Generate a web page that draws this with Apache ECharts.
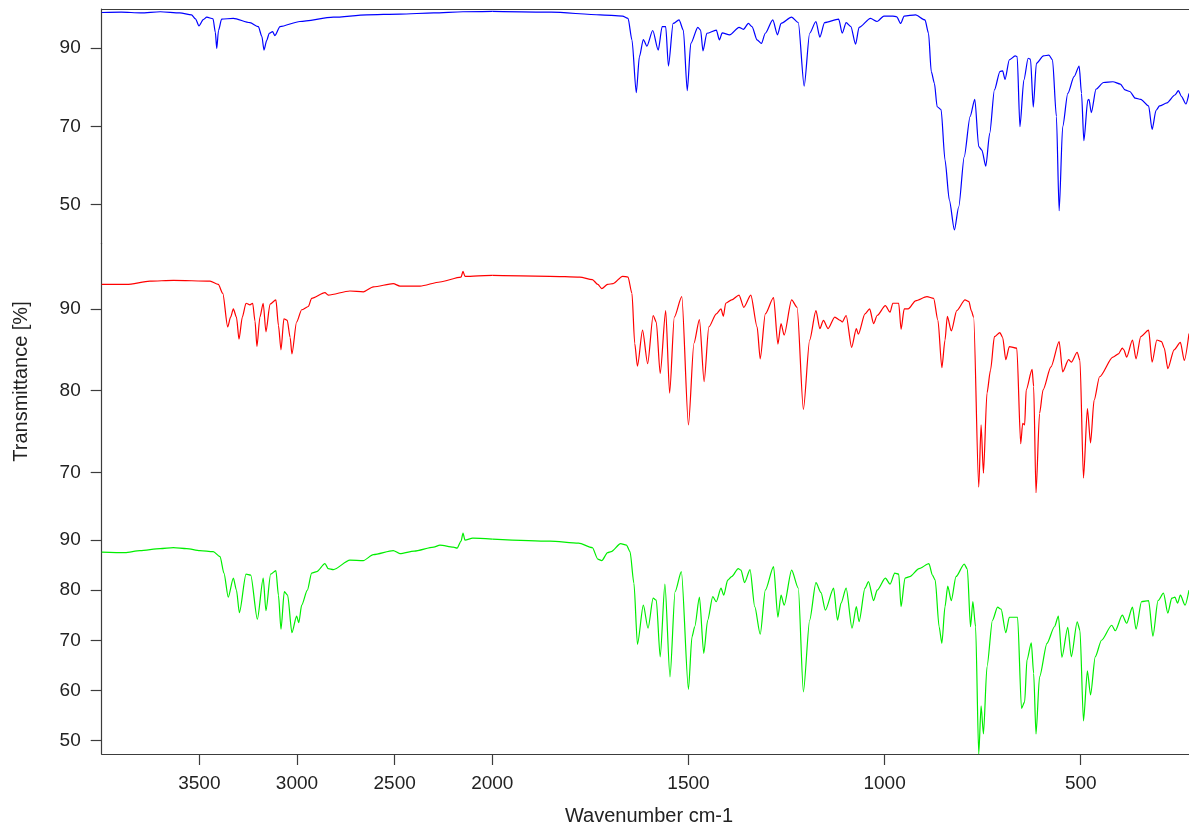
<!DOCTYPE html>
<html lang="en">
<head>
<meta charset="UTF-8">
<title>IR spectra</title>
<script src="https://cdn.jsdelivr.net/npm/echarts@6/dist/echarts.min.js"></script>
<style>
  html, body { margin: 0; padding: 0; background: #fff; }
  #main { width: 1189px; height: 825px; }
</style>
</head>
<body>
<div id="main"></div>
<script>
// spectra: [wavenumber cm-1, transmittance %]
var blueSpectrum = [
  [4000, 99.1], [3900, 99.2], [3800, 99.0], [3700, 99.3], [3600, 99.0], [3540, 98.5], [3520, 97.5],
  [3502, 95.7], [3480, 97.3], [3462, 97.9], [3430, 97.5], [3418, 94.0], [3411, 89.9], [3402, 94.5],
  [3386, 97.4], [3326, 97.6], [3241, 96.5], [3198, 95.5], [3180, 93.0], [3169, 89.5], [3155, 92.0],
  [3142, 93.8], [3125, 94.2], [3113, 93.2], [3087, 95.5], [2985, 96.8], [2814, 97.9], [2643, 98.5],
  [2473, 98.7], [2300, 99.0], [2150, 99.3], [2000, 99.4], [1850, 99.2], [1725, 98.5], [1668, 98.2],
  [1654, 97.6], [1644, 92.1], [1633, 78.6], [1625, 87.8], [1615, 92.2], [1606, 90.5], [1591, 94.5],
  [1577, 89.5], [1567, 95.5], [1558, 95.5], [1551, 85.4], [1539, 96.3], [1524, 97.2], [1513, 94.6],
  [1503, 79.1], [1494, 91.2], [1476, 95.3], [1469, 94.6], [1463, 89.3], [1453, 93.8], [1429, 94.6],
  [1421, 92.1], [1414, 93.9], [1395, 93.4], [1371, 95.3], [1360, 94.8], [1347, 96.3], [1338, 95.5],
  [1325, 92.1], [1314, 91.2], [1304, 93.8], [1285, 97.2], [1273, 93.4], [1264, 96.3], [1237, 97.9],
  [1220, 96.5], [1205, 80.3], [1191, 93.8], [1175, 96.8], [1165, 92.8], [1153, 96.5], [1117, 97.4],
  [1108, 93.8], [1098, 96.5], [1086, 95.5], [1074, 91.0], [1065, 95.3], [1036, 97.6], [1019, 96.8],
  [1002, 98.2], [979, 98.2], [969, 98.0], [959, 96.3], [950, 98.2], [921, 98.5], [897, 97.2],
  [888, 93.8], [881, 84.0], [873, 81.0], [866, 75.0], [856, 74.3], [846, 61.4], [835, 51.2],
  [822, 43.5], [811, 49.4], [797, 62.2], [782, 72.5], [770, 76.9], [760, 64.8], [752, 63.9],
  [742, 59.8], [732, 68.2], [720, 79.3], [706, 84.0], [699, 84.2], [693, 82.0], [682, 87.0],
  [667, 88.0], [662, 87.8], [655, 69.9], [645, 81.8], [634, 87.4], [628, 87.1], [621, 74.9],
  [613, 86.1], [595, 88.0], [581, 88.2], [572, 87.0], [562, 72.5], [555, 48.4], [546, 69.9],
  [533, 78.4], [517, 82.7], [504, 85.4], [498, 78.4], [492, 66.3], [482, 76.7], [479, 76.9],
  [473, 73.5], [461, 79.5], [442, 81.2], [418, 81.4], [399, 80.8], [387, 79.3], [375, 78.9],
  [361, 77.2], [347, 76.9], [327, 75.2], [318, 69.2], [308, 74.1], [299, 75.2], [280, 76.0],
  [260, 78.0], [251, 79.1], [243, 77.6], [232, 75.7], [224, 78.4]
];

var redSpectrum = [
  [4000, 93.0], [3872, 93.0], [3753, 93.4], [3633, 93.5], [3445, 93.4], [3403, 93.0], [3380, 91.9],
  [3355, 87.8], [3340, 89.0], [3326, 90.0], [3310, 89.0], [3297, 86.3], [3280, 89.0], [3261, 90.7],
  [3241, 90.5], [3227, 90.7], [3215, 88.5], [3205, 85.4], [3190, 89.0], [3173, 90.7], [3159, 87.2],
  [3138, 90.6], [3108, 91.1], [3095, 88.0], [3082, 85.0], [3067, 88.8], [3050, 88.6], [3035, 86.5],
  [3026, 84.5], [3002, 88.4], [2976, 89.9], [2942, 90.3], [2925, 91.3], [2857, 92.0], [2840, 91.7],
  [2729, 92.2], [2660, 92.1], [2609, 92.7], [2507, 93.1], [2473, 92.8], [2370, 92.8], [2268, 93.3],
  [2160, 93.9], [2150, 94.6], [2140, 94.0], [2114, 94.0], [2000, 94.1], [1853, 94.0], [1777, 93.9],
  [1745, 93.6], [1731, 93.0], [1721, 92.5], [1706, 93.0], [1692, 93.1], [1668, 94.0], [1654, 93.9],
  [1644, 91.9], [1637, 85.8], [1630, 83.0], [1617, 87.4], [1604, 83.3], [1590, 89.2], [1582, 88.4],
  [1572, 82.1], [1558, 89.8], [1548, 79.7], [1536, 89.0], [1517, 91.5], [1500, 75.8], [1486, 85.8],
  [1472, 88.7], [1460, 81.1], [1448, 87.8], [1429, 89.4], [1417, 90.0], [1411, 89.1], [1405, 90.7],
  [1390, 91.1], [1371, 91.7], [1359, 90.2], [1341, 91.7], [1325, 87.8], [1317, 83.9], [1304, 89.4],
  [1283, 91.4], [1272, 85.7], [1264, 88.2], [1256, 86.8], [1237, 91.1], [1223, 90.2], [1207, 77.7],
  [1191, 86.2], [1175, 89.8], [1165, 87.6], [1156, 88.6], [1144, 87.6], [1127, 89.0], [1113, 88.6],
  [1108, 88.4], [1098, 89.2], [1084, 85.3], [1072, 87.6], [1067, 86.9], [1050, 89.4], [1038, 90.0],
  [1028, 88.2], [1019, 89.2], [998, 90.4], [986, 89.6], [979, 90.7], [964, 90.7], [958, 87.5],
  [950, 90.0], [940, 90.0], [921, 91.0], [892, 91.5], [875, 91.3], [864, 88.6], [854, 82.8],
  [846, 86.2], [840, 89.1], [830, 87.3], [816, 89.8], [795, 91.1], [785, 90.9], [779, 89.8],
  [773, 89.0], [760, 68.2], [754, 75.8], [748, 69.9], [739, 79.7], [730, 82.5], [720, 86.6],
  [706, 87.1], [699, 86.5], [691, 83.8], [682, 85.4], [663, 85.2], [653, 73.5], [648, 76.0],
  [643, 75.8], [639, 80.1], [624, 82.6], [620, 80.5], [614, 67.5], [605, 77.2], [596, 80.1],
  [576, 82.9], [555, 86.0], [546, 82.3], [531, 83.8], [524, 83.5], [509, 84.7], [502, 83.7],
  [493, 69.3], [483, 77.8], [475, 73.6], [466, 78.8], [452, 81.7], [418, 84.1], [404, 84.5],
  [394, 85.2], [390, 85.0], [383, 84.1], [368, 86.2], [359, 83.9], [347, 86.6], [327, 87.4],
  [318, 83.5], [306, 86.2], [294, 86.0], [287, 85.2], [278, 82.7], [262, 85.0], [246, 85.9],
  [236, 83.7], [224, 87.0]
];

var greenSpectrum = [
  [4000, 87.6], [3881, 87.5], [3804, 87.9], [3701, 88.3], [3633, 88.5], [3565, 88.3], [3497, 87.9],
  [3429, 87.7], [3394, 86.7], [3374, 83.4], [3352, 78.6], [3326, 82.4], [3310, 80.0], [3295, 75.5],
  [3261, 83.2], [3237, 83.0], [3203, 74.2], [3173, 82.4], [3159, 75.9], [3135, 83.2], [3108, 83.9],
  [3095, 79.0], [3082, 72.2], [3065, 79.7], [3048, 79.0], [3026, 71.5], [3002, 74.8], [2991, 73.5],
  [2976, 77.0], [2947, 80.0], [2925, 83.4], [2899, 83.7], [2857, 85.3], [2840, 84.3], [2814, 84.1],
  [2729, 86.0], [2661, 85.9], [2609, 87.1], [2507, 87.9], [2473, 87.3], [2400, 87.8], [2300, 88.6],
  [2268, 89.0], [2200, 88.6], [2180, 88.4], [2160, 89.8], [2150, 91.4], [2140, 90.0], [2100, 90.4],
  [2000, 90.2], [1853, 89.8], [1780, 89.4], [1745, 88.5], [1731, 86.2], [1721, 85.9], [1706, 87.5],
  [1697, 87.7], [1673, 89.3], [1658, 89.0], [1649, 87.7], [1639, 81.4], [1630, 69.2], [1615, 77.0],
  [1603, 72.4], [1590, 78.4], [1582, 78.0], [1572, 66.7], [1560, 81.2], [1547, 62.7], [1534, 79.7],
  [1518, 83.7], [1500, 60.2], [1491, 70.7], [1484, 72.7], [1472, 78.6], [1461, 67.4], [1451, 74.0],
  [1438, 78.7], [1429, 77.7], [1417, 80.4], [1410, 79.0], [1400, 82.0], [1390, 82.7], [1373, 84.3],
  [1366, 84.0], [1357, 81.5], [1343, 84.1], [1331, 76.7], [1317, 71.2], [1304, 80.0], [1283, 84.7],
  [1272, 74.6], [1264, 79.0], [1256, 77.0], [1237, 84.0], [1220, 80.4], [1207, 59.7], [1191, 74.0],
  [1175, 81.5], [1162, 79.5], [1151, 76.0], [1130, 80.4], [1120, 74.0], [1111, 77.4], [1098, 80.4],
  [1083, 72.4], [1072, 76.7], [1065, 73.7], [1050, 80.4], [1041, 81.7], [1028, 77.9], [1019, 80.0],
  [998, 82.4], [986, 81.2], [974, 83.4], [964, 83.2], [958, 76.7], [948, 82.4], [936, 82.7],
  [912, 84.3], [887, 85.3], [878, 83.0], [871, 82.0], [861, 72.7], [854, 69.4], [846, 76.7],
  [839, 80.8], [830, 77.9], [818, 82.7], [797, 85.2], [789, 84.2], [781, 72.7], [775, 77.7],
  [768, 72.7], [760, 47.3], [754, 56.9], [748, 51.3], [739, 64.7], [725, 74.0], [712, 76.6],
  [703, 76.2], [691, 71.5], [682, 74.6], [661, 74.6], [651, 56.4], [643, 57.7], [637, 66.1],
  [626, 69.5], [620, 63.4], [614, 51.3], [605, 62.7], [586, 69.4], [567, 72.7], [557, 74.8],
  [548, 66.6], [533, 72.6], [524, 66.7], [509, 73.7], [502, 72.0], [493, 53.9], [483, 63.9],
  [475, 59.1], [463, 66.7], [447, 70.0], [421, 73.0], [412, 71.9], [394, 75.0], [383, 73.4],
  [368, 76.6], [359, 72.2], [345, 77.7], [327, 77.9], [316, 70.8], [303, 77.9], [289, 79.4],
  [278, 75.4], [268, 78.4], [260, 78.6], [253, 77.4], [246, 79.0], [234, 77.0], [224, 80.0]
];

// tick labels
var blueTicks = [50, 70, 90];
var redTicks = [70, 80, 90];
var greenTicks = [50, 60, 70, 80, 90];
var highWnTicks = [2000, 2500, 3000, 3500];
var lowWnTicks = [500, 1000, 1500];

var FONT = "'Liberation Sans', Arial, sans-serif";
var AXIS_COLOR = '#3c3c3c';

// layout: three stacked panels, each split at 2000 cm-1 (scale doubles below 2000)
var rows = [
  { data: blueSpectrum,  color: '#0000ff', ticks: blueTicks,  top: 9,     height: 234.6, min: 40,   max: 100 },
  { data: redSpectrum,   color: '#ff0000', ticks: redTicks,   top: 243.6, height: 261.4, min: 66,   max: 98 },
  { data: greenSpectrum, color: '#00ee00', ticks: greenTicks, top: 505,   height: 249,   min: 47.3, max: 97 }
];
var cols = [
  { left: 101.7, width: 390.6, min: 2000, max: 4000, ticks: highWnTicks },
  { left: 492.3, width: 696.7, min: 224,  max: 2000, ticks: lowWnTicks }
];

var grids = [], xAxes = [], yAxes = [], series = [];
rows.forEach(function (row, r) {
  cols.forEach(function (col, c) {
    var idx = grids.length;
    grids.push({ left: col.left, width: col.width, top: row.top, height: row.height });

    var xa = {
      type: 'value', gridIndex: idx, inverse: true, min: col.min, max: col.max,
      splitLine: { show: false },
      axisLine: { show: false, lineStyle: { color: AXIS_COLOR, width: 1.2 } },
      axisTick: { show: false },
      axisLabel: { show: false }
    };
    if (r === 0) {
      xa.position = 'top';
      xa.axisLine.show = true;
    } else if (r === rows.length - 1) {
      xa.position = 'bottom';
      xa.axisLine.show = true;
      xa.axisTick = { show: true, length: 11, customValues: col.ticks, lineStyle: { color: AXIS_COLOR, width: 1.2 } };
      xa.axisLabel = {
        show: true, customValues: col.ticks, margin: 20, fontSize: 19, fontFamily: FONT, color: '#222',
        formatter: function (v) { return String(v); }
      };
    }
    xAxes.push(xa);

    yAxes.push({
      type: 'value', gridIndex: idx, min: row.min, max: row.max,
      splitLine: { show: false },
      axisLine: { show: c === 0, lineStyle: { color: AXIS_COLOR, width: 1.2 } },
      axisTick: { show: c === 0, length: 11, customValues: row.ticks, lineStyle: { color: AXIS_COLOR, width: 1.2 } },
      axisLabel: { show: c === 0, customValues: row.ticks, margin: 21, fontSize: 19, fontFamily: FONT, color: '#222' }
    });

    series.push({
      type: 'line',
      xAxisIndex: idx,
      yAxisIndex: idx,
      showSymbol: false,
      symbol: 'none',
      silent: true,
      smooth: 0.25,
      smoothMonotone: 'x',
      lineStyle: { color: row.color, width: 1.2 },
      data: row.data.filter(function (p) { return p[0] >= col.min && p[0] <= col.max; })
    });
  });
});

var myChart = echarts.init(document.getElementById('main'));
myChart.setOption({
  animation: false,
  grid: grids,
  xAxis: xAxes,
  yAxis: yAxes,
  series: series,
  graphic: [
    {
      type: 'text', x: 21.7, y: 381.5, rotation: Math.PI / 2,
      style: { text: 'Transmittance [%]', font: '20px ' + FONT, fill: '#222', textAlign: 'center', textVerticalAlign: 'middle' }
    },
    {
      type: 'text', x: 649, y: 816.7,
      style: { text: 'Wavenumber cm-1', font: '20px ' + FONT, fill: '#222', textAlign: 'center', textVerticalAlign: 'middle' }
    }
  ]
});
</script>
</body>
</html>
